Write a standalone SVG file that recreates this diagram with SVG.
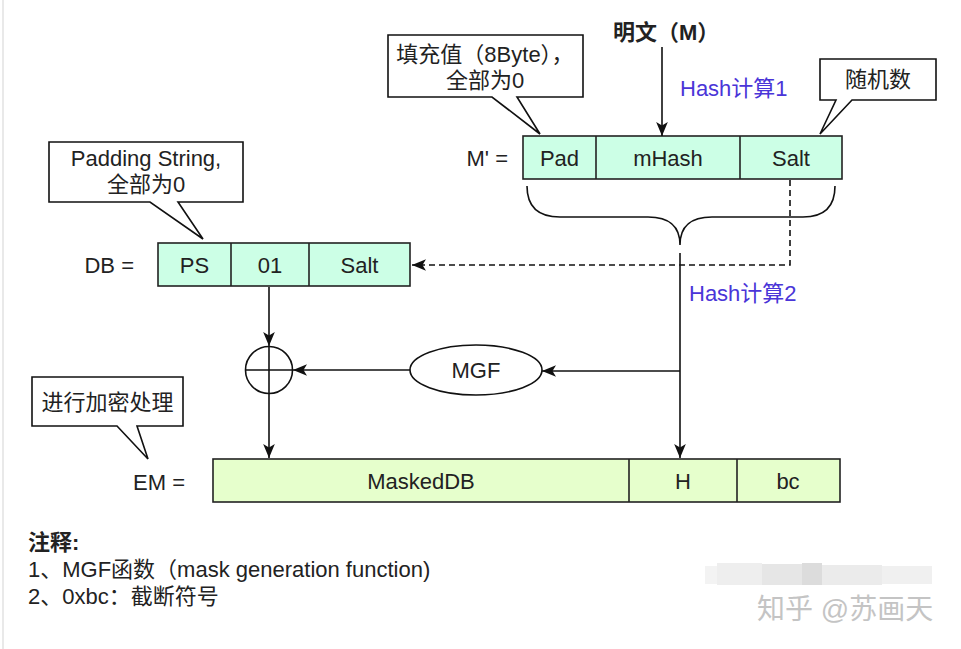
<svg xmlns="http://www.w3.org/2000/svg" width="961" height="649" viewBox="0 0 961 649">
<defs>
<marker id="arr" viewBox="0 0 12 10" refX="12" refY="5" markerWidth="14" markerHeight="12" markerUnits="userSpaceOnUse" orient="auto">
<path d="M0,0 L12,5 L0,10 L3,5 Z" fill="#111"/>
</marker>
<style>
text{font-family:"Liberation Sans","Noto Sans CJK SC",sans-serif;font-size:22px;fill:#222}
.c{text-anchor:middle}
.e{text-anchor:end}
.b{font-weight:bold}
.blue{fill:#4a35d8}
.mint{fill:#ccffe6;stroke:#222;stroke-width:1.6}
.lime{fill:#e6ffcc;stroke:#222;stroke-width:1.6}
.div{stroke:#222;stroke-width:1.6}
.call{fill:#fff;stroke:#111;stroke-width:1.6;stroke-linejoin:miter}
.ln{fill:none;stroke:#111;stroke-width:1.6}
.dash{fill:none;stroke:#111;stroke-width:1.6;stroke-dasharray:6 4}
</style>
</defs>
<rect x="0" y="0" width="961" height="649" fill="#fff"/>
<line x1="3" y1="0" x2="3" y2="649" stroke="#e2e2e2" stroke-width="1.5"/>

<g id="plaintext">
<text x="613" y="40" class="b">明文（M）</text>
</g>

<g id="callout-pad">
<path class="call" d="M388,35 H583 V97 H517 L540,134 L492,97 H388 Z"/>
<text x="485" y="62" class="c">填充值（8Byte），</text>
<text x="485" y="88" class="c">全部为0</text>
</g>

<g id="callout-salt">
<path class="call" d="M820,59 H936 V100 H852 L820,134 L836,100 H820 Z"/>
<text x="878" y="87" class="c">随机数</text>
</g>

<g id="mprime">
<text x="508" y="166" class="e">M' =</text>
<rect class="mint" x="523" y="136" width="319" height="43"/>
<line class="div" x1="596" y1="136" x2="596" y2="179"/>
<line class="div" x1="740" y1="136" x2="740" y2="179"/>
<text x="559.5" y="166" class="c">Pad</text>
<text x="668" y="166" class="c">mHash</text>
<text x="791" y="166" class="c">Salt</text>
</g>

<g id="brace">
<path class="ln" d="M527,186 Q527,217 560,217 L648,217 Q680,217 680,245 Q680,217 712,217 L803,217 Q835,217 835,186"/>
</g>

<g id="callout-ps">
<path class="call" d="M49,142 H243 V202 H178 L203,239 L150,202 H49 Z"/>
<text x="146" y="166" class="c">Padding String,</text>
<text x="146" y="192" class="c">全部为0</text>
</g>

<g id="db">
<text x="134" y="273" class="e">DB =</text>
<rect class="mint" x="158" y="243" width="252" height="43"/>
<line class="div" x1="231" y1="243" x2="231" y2="286"/>
<line class="div" x1="309" y1="243" x2="309" y2="286"/>
<text x="194.5" y="273" class="c">PS</text>
<text x="270" y="273" class="c">01</text>
<text x="359.5" y="273" class="c">Salt</text>
</g>

<g id="xor">
<circle cx="269" cy="370" r="23.5" fill="#fff" stroke="#111" stroke-width="1.6"/>
<line class="ln" x1="245.5" y1="370" x2="292.5" y2="370"/>
<line class="ln" x1="269" y1="346.5" x2="269" y2="393.5"/>
</g>

<g id="mgf">
<ellipse cx="476" cy="370" rx="66" ry="25" fill="#fff" stroke="#111" stroke-width="1.6"/>
<text x="476" y="378" class="c">MGF</text>
</g>

<g id="callout-enc">
<path class="call" d="M32,377 H183 V426 H137 L148,459 L117,426 H32 Z"/>
<text x="107.5" y="410" class="c">进行加密处理</text>
</g>

<g id="em">
<text x="185" y="490" class="e">EM =</text>
<rect class="lime" x="213" y="459" width="627" height="43"/>
<line class="div" x1="629" y1="459" x2="629" y2="502"/>
<line class="div" x1="737" y1="459" x2="737" y2="502"/>
<text x="421" y="489" class="c">MaskedDB</text>
<text x="683" y="489" class="c">H</text>
<text x="788" y="489" class="c">bc</text>
</g>

<g id="connectors">
<line class="ln" x1="662" y1="47" x2="662" y2="136" marker-end="url(#arr)"/>
<text x="680" y="96" class="blue">Hash计算1</text>
<polyline class="dash" points="790,180 790,265 412,265" marker-end="url(#arr)"/>
<line class="ln" x1="680" y1="253" x2="680" y2="458" marker-end="url(#arr)"/>
<text x="689" y="301" class="blue">Hash计算2</text>
<line class="ln" x1="680" y1="371" x2="542" y2="371" marker-end="url(#arr)"/>
<line class="ln" x1="410" y1="370" x2="293" y2="370" marker-end="url(#arr)"/>
<line class="ln" x1="269" y1="287" x2="269" y2="346" marker-end="url(#arr)"/>
<line class="ln" x1="269" y1="394" x2="269" y2="458" marker-end="url(#arr)"/>
</g>

<g id="notes">
<text x="28" y="550" class="b">注释:</text>
<text x="28" y="577">1、MGF函数（mask generation function)</text>
<text x="28" y="604">2、0xbc：截断符号</text>
</g>

<g id="watermark">
<rect x="705" y="566" width="12" height="18" fill="#f3f3f3"/>
<rect x="717" y="563" width="45" height="22" fill="#eeeeee"/>
<rect x="762" y="564" width="40" height="21" fill="#e6e6e6"/>
<rect x="802" y="563" width="20" height="22" fill="#dcdcdc"/>
<rect x="822" y="565" width="60" height="20" fill="#ebebeb"/>
<rect x="882" y="566" width="50" height="18" fill="#f0f0f0"/>
<text x="757" y="619" style="font-size:28px;fill:#c4c4c4">知乎 @苏画天</text>
</g>
</svg>
